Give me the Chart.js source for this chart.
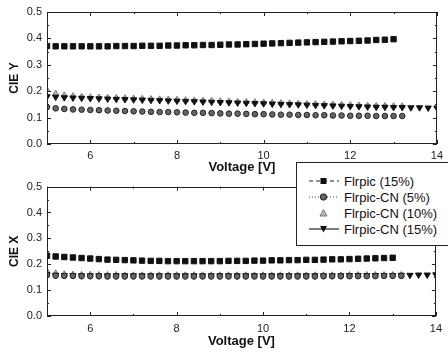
<!DOCTYPE html>
<html><head><meta charset="utf-8">
<script src="https://cdn.jsdelivr.net/npm/chart.js@4"></script>
<style>
html,body{margin:0;padding:0;background:#fff;width:448px;height:357px;overflow:hidden;position:relative;font-family:"Liberation Sans",Arial,sans-serif;}
#c1{position:absolute;left:0;top:0;}
#c2{position:absolute;left:0;top:175px;}
#legend{position:absolute;left:296px;top:162px;width:160px;height:84px;border:1px solid #222;background:#fff;z-index:5;box-sizing:border-box;}
.row{position:absolute;left:11px;height:16px;display:flex;align-items:center;font-size:13px;color:#111;white-space:nowrap;}
.row svg{margin-right:4px;}
</style></head>
<body>
<canvas id="c1" width="448" height="175"></canvas>
<canvas id="c2" width="448" height="182"></canvas>
<div id="legend"></div>
<script>
// ---- data ----
const voltage = [5.0,5.2,5.4,5.6,5.8,6.0,6.2,6.4,6.6,6.8,7.0,7.2,7.4,7.6,7.8,8.0,8.2,8.4,8.6,8.8,9.0,9.2,9.4,9.6,9.8,10.0,10.2,10.4,10.6,10.8,11.0,11.2,11.4,11.6,11.8,12.0,12.2,12.4,12.6,12.8,13.0,13.2,13.4,13.6,13.8,14.0];
const seriesNames = ["FIrpic (15%)","FIrpic-CN (5%)","FIrpic-CN (10%)","FIrpic-CN (15%)"];
const legendLabels = ["Flrpic (15%)","Flrpic-CN (5%)","Flrpic-CN (10%)","Flrpic-CN (15%)"];
// CIE Y
const cieY_Flrpic15 = [0.371,0.370,0.370,0.370,0.370,0.370,0.370,0.370,0.371,0.371,0.371,0.372,0.372,0.372,0.373,0.373,0.374,0.374,0.375,0.375,0.376,0.377,0.377,0.378,0.379,0.380,0.381,0.382,0.383,0.384,0.385,0.386,0.387,0.388,0.389,0.390,0.391,0.392,0.394,0.395,0.397];
const cieY_CN5 = [0.140,0.135,0.133,0.131,0.130,0.129,0.128,0.127,0.126,0.125,0.124,0.123,0.122,0.121,0.121,0.120,0.119,0.118,0.118,0.117,0.116,0.115,0.115,0.114,0.113,0.113,0.112,0.111,0.111,0.110,0.110,0.109,0.109,0.108,0.108,0.107,0.107,0.107,0.106,0.106,0.106,0.106];
const cieY_CN10 = [0.205,0.192,0.185,0.182,0.180,0.178,0.177,0.176,0.175,0.174,0.173,0.172,0.171,0.170,0.169,0.168,0.167,0.166,0.165,0.164,0.163,0.162,0.161,0.160,0.159,0.158,0.157,0.156,0.155,0.154,0.153,0.152,0.151,0.150,0.149,0.148,0.147,0.146,0.145,0.145,0.144,0.144];
const cieY_CN15 = [0.180,0.178,0.176,0.175,0.174,0.173,0.172,0.171,0.170,0.169,0.168,0.167,0.166,0.165,0.164,0.163,0.162,0.161,0.160,0.159,0.158,0.157,0.156,0.155,0.154,0.153,0.152,0.151,0.150,0.149,0.148,0.147,0.146,0.145,0.144,0.143,0.142,0.141,0.140,0.140,0.139,0.139,0.138,0.138,0.137,0.137];
// CIE X
const cieX_Flrpic15 = [0.233,0.230,0.228,0.226,0.224,0.222,0.220,0.218,0.217,0.216,0.215,0.214,0.213,0.213,0.212,0.212,0.212,0.212,0.212,0.212,0.212,0.213,0.213,0.213,0.214,0.214,0.215,0.215,0.216,0.216,0.217,0.217,0.218,0.219,0.219,0.220,0.221,0.222,0.223,0.224,0.225];
const cieX_CN5 = [0.158,0.156,0.155,0.155,0.154,0.154,0.154,0.153,0.153,0.153,0.153,0.153,0.153,0.153,0.153,0.153,0.153,0.153,0.153,0.153,0.153,0.153,0.153,0.153,0.153,0.153,0.153,0.153,0.153,0.153,0.153,0.153,0.154,0.154,0.154,0.154,0.154,0.154,0.154,0.155,0.155,0.155];
const cieX_CN10 = [0.174,0.166,0.162,0.161,0.160,0.160,0.159,0.159,0.159,0.158,0.158,0.158,0.158,0.158,0.158,0.158,0.158,0.158,0.158,0.158,0.158,0.158,0.158,0.158,0.158,0.158,0.158,0.158,0.158,0.158,0.158,0.158,0.158,0.158,0.158,0.159,0.159,0.159,0.159,0.159,0.159,0.159];
const cieX_CN15 = [0.160,0.158,0.157,0.157,0.156,0.156,0.156,0.156,0.156,0.156,0.156,0.156,0.156,0.156,0.156,0.156,0.156,0.156,0.156,0.156,0.156,0.156,0.156,0.156,0.156,0.156,0.156,0.156,0.156,0.156,0.156,0.156,0.156,0.156,0.156,0.157,0.157,0.157,0.157,0.157,0.157,0.158,0.158,0.159,0.159,0.160];
// ticks
const xTicks = [6,8,10,12,14];
const xMinorTicks = [5,7,9,11,13];
const yTicks = [0.0,0.1,0.2,0.3,0.4,0.5];
const yMinorTicks = [0.05,0.15,0.25,0.35,0.45];

const pts = arr => arr.map((v,i)=>({x:voltage[i], y:v}));

const styles = [
  {pointStyle:'rect', pointRadius:3.8, backgroundColor:'#111', borderColor:'#111', rotation:0, order:1},
  {pointStyle:'circle', pointRadius:2.8, backgroundColor:'#666', borderColor:'#222', rotation:0, order:2},
  {pointStyle:'triangle', pointRadius:3.3, backgroundColor:'#bbb', borderColor:'#777', rotation:0, order:4},
  {pointStyle:'triangle', pointRadius:3.6, backgroundColor:'#111', borderColor:'#111', rotation:180, order:3}
];

function makeDatasets(list){
  return list.map((arr,k)=>Object.assign({
    label: seriesNames[k], data: pts(arr), showLine:false, borderWidth:1, pointHoverRadius:4
  }, styles[k]));
}

const framePlugin = {
  id:'frame',
  afterDatasetsDraw(chart){
    const {ctx, chartArea:a, scales:{x,y}} = chart;
    ctx.save();
    ctx.strokeStyle='#222'; ctx.lineWidth=1;
    ctx.strokeRect(Math.round(a.left)+0.5, Math.round(a.top)+0.5, Math.round(a.width)-1, Math.round(a.height)-1);
    ctx.beginPath();
    const tx = (vals,len)=>vals.forEach(v=>{const p=Math.round(x.getPixelForValue(v))+0.5;
      ctx.moveTo(p,a.bottom); ctx.lineTo(p,a.bottom-len); ctx.moveTo(p,a.top); ctx.lineTo(p,a.top+len);});
    const ty = (vals,len)=>vals.forEach(v=>{const p=Math.round(y.getPixelForValue(v))+0.5;
      ctx.moveTo(a.left,p); ctx.lineTo(a.left+len,p); ctx.moveTo(a.right,p); ctx.lineTo(a.right-len,p);});
    tx(xTicks,4); tx(xMinorTicks,2); ty(yTicks,4); ty(yMinorTicks,2);
    ctx.stroke();
    ctx.restore();
  }
};

function makeChart(id, list, yTitle, padTop, xHeight, tickPad, titlePadBottom){
  return new Chart(document.getElementById(id), {
    type:'scatter',
    data:{datasets:makeDatasets(list)},
    options:{
      responsive:false, animation:false,
      layout:{padding:{top:padTop, right:6, left:0, bottom:0}},
      plugins:{legend:{display:false}, tooltip:{enabled:false}},
      scales:{
        x:{type:'linear', min:5, max:14,
          afterBuildTicks:s=>{s.ticks = xTicks.map(v=>({value:v}));},
          afterFit:s=>{s.height = xHeight;},
          grid:{display:false, drawTicks:false},
          border:{display:false},
          ticks:{padding:tickPad, color:'#222', font:{family:'"Liberation Sans", Arial', size:11}, maxRotation:0},
          title:{display:true, text:'Voltage [V]', color:'#111', font:{family:'"Liberation Sans", Arial', size:13, weight:'bold'}, padding:{top:0,bottom:titlePadBottom}}
        },
        y:{type:'linear', min:0, max:0.5,
          afterBuildTicks:s=>{s.ticks = yTicks.map(v=>({value:v}));},
          afterFit:s=>{s.width = 47;},
          grid:{display:false, drawTicks:false},
          border:{display:false},
          ticks:{padding:5, color:'#222', font:{family:'"Liberation Sans", Arial', size:11}, callback:v=>Number(v).toFixed(1)},
          title:{display:true, text:yTitle, color:'#111', font:{family:'"Liberation Sans", Arial', size:12, weight:'bold'}, padding:{top:7,bottom:0}}
        }
      }
    },
    plugins:[framePlugin]
  });
}

makeChart('c1', [cieY_Flrpic15, cieY_CN5, cieY_CN10, cieY_CN15], 'CIE Y', 12, 31, 5, 0);
makeChart('c2', [cieX_Flrpic15, cieX_CN5, cieX_CN10, cieX_CN15], 'CIE X', 8, 41, 6, 8);

// legend (HTML with SVG samples)
const samples = [
  '<line x1="1" y1="6" x2="31" y2="6" stroke="#222" stroke-width="1.2" stroke-dasharray="4,3"/><rect x="12.5" y="3" width="6" height="6" fill="#111"/>',
  '<line x1="1" y1="6" x2="31" y2="6" stroke="#444" stroke-width="1" stroke-dasharray="1,2"/><circle cx="15.5" cy="6" r="3.2" fill="#666" stroke="#222"/>',
  '<polygon points="15.5,2.5 19,9 12,9" fill="#bbb" stroke="#777"/>',
  '<line x1="1" y1="6" x2="31" y2="6" stroke="#222" stroke-width="1.2"/><polygon points="12,3 19,3 15.5,9.5" fill="#111"/>'
];
const legendTops = [10, 26, 42, 58];
const lg = document.getElementById('legend');
legendLabels.forEach((t,i)=>{
  const r = document.createElement('div');
  r.className='row'; r.style.top = legendTops[i]+'px';
  r.innerHTML = '<svg width="32" height="12">'+samples[i]+'</svg><span>'+t+'</span>';
  lg.appendChild(r);
});
</script>
</body></html>
